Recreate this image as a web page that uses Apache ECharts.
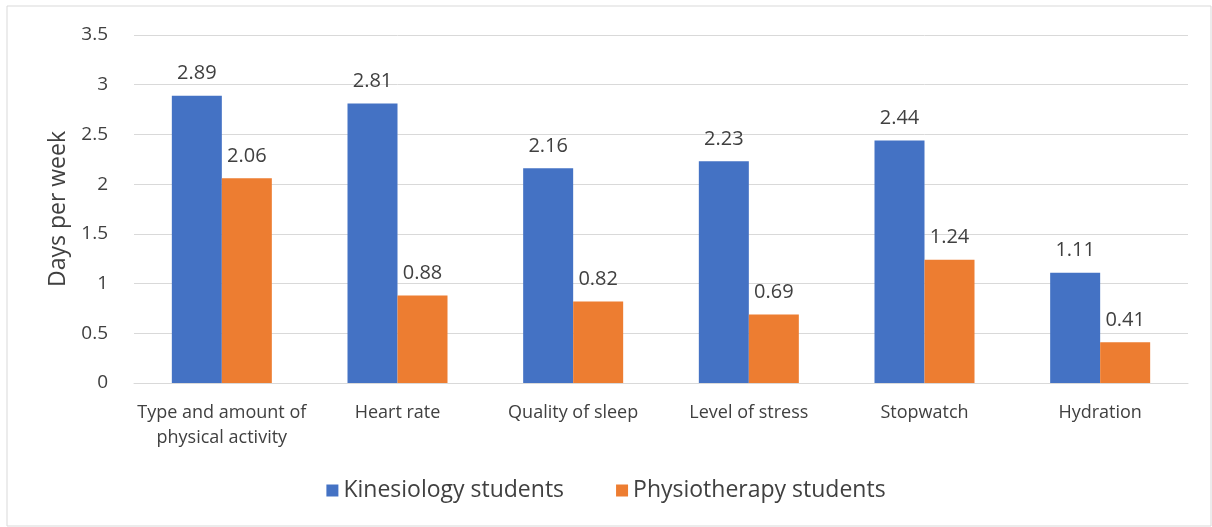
<!DOCTYPE html>
<html>
<head>
<meta charset="utf-8">
<script src="https://cdn.jsdelivr.net/npm/echarts@6/dist/echarts.min.js"></script>
<style>
  html, body { margin: 0; padding: 0; background: #fff; }
  #main { width: 1212px; height: 527px; }
</style>
</head>
<body>
<div id="main"></div>
<script>
const categories = [
  "Type and amount of\nphysical activity",
  "Heart rate",
  "Quality of sleep",
  "Level of stress",
  "Stopwatch",
  "Hydration"
];
const kinesiology = [2.89, 2.81, 2.16, 2.23, 2.44, 1.11];
const physiotherapy = [2.06, 0.88, 0.82, 0.69, 1.24, 0.41];
const seriesNames = ["Kinesiology students", "Physiotherapy students"];
const colorList = ["#4472C4", "#ED7D31"];

const fontFam = "'Open Sans', 'Noto Sans', sans-serif";
const myChart = echarts.init(document.getElementById("main"));

const labelStyle = {
  show: true,
  position: "top",
  distance: 12,
  color: "#404040",
  fontSize: 20,
  fontFamily: fontFam,
  formatter: p => p.value.toFixed(2)
};

const option = {
  animation: false,
  graphic: [{
    type: "rect",
    shape: { x: 7, y: 6, width: 1204, height: 520 },
    style: { fill: "none", stroke: "#d9d9d9", lineWidth: 1 }
  }],
  legend: {
    bottom: 20,
    left: "center",
    itemWidth: 12,
    itemHeight: 12,
    itemGap: 52,
    icon: "rect",
    textStyle: { color: "#404040", fontSize: 23, fontFamily: fontFam },
    data: seriesNames
  },
  grid: { left: 134, right: 24, top: 35, bottom: 144 },
  xAxis: {
    type: "category",
    data: categories,
    axisLine: { lineStyle: { color: "#d9d9d9" } },
    axisTick: { show: false },
    axisLabel: {
      interval: 0,
      color: "#404040",
      fontSize: 18,
      fontFamily: fontFam,
      margin: 17,
      lineHeight: 25
    }
  },
  yAxis: {
    type: "value",
    min: 0,
    max: 3.5,
    interval: 0.5,
    name: "Days per week",
    nameLocation: "middle",
    nameGap: 62,
    nameTextStyle: { color: "#404040", fontSize: 23, fontFamily: fontFam },
    axisLine: { show: false },
    axisTick: { show: false },
    axisLabel: { color: "#404040", fontSize: 19, fontFamily: fontFam, margin: 26 },
    splitLine: { lineStyle: { color: "#d9d9d9" } }
  },
  series: [
    {
      name: seriesNames[0],
      type: "bar",
      data: kinesiology,
      barWidth: 50,
      barGap: "0%",
      itemStyle: { color: colorList[0] },
      label: labelStyle
    },
    {
      name: seriesNames[1],
      type: "bar",
      data: physiotherapy,
      barWidth: 50,
      itemStyle: { color: colorList[1] },
      label: labelStyle
    }
  ]
};
myChart.setOption(option);
window.addEventListener("resize", function () {
  myChart.resize();
});
</script>
</body>
</html>
